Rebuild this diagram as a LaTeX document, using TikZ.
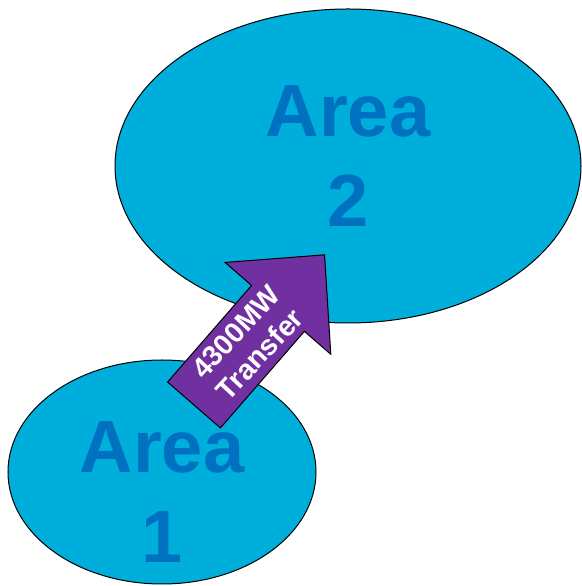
\documentclass[tikz,border=0pt]{standalone}
\usepackage{fontspec}
\setmainfont{Liberation Sans}
\usetikzlibrary{shapes.geometric}

\definecolor{zonefill}{RGB}{0,174,219}
\definecolor{zonetext}{RGB}{0,112,192}
\definecolor{flowfill}{RGB}{112,48,160}

\begin{document}
\begin{tikzpicture}[x=1pt, y=1pt,
    zone/.style={ellipse, draw=black, line width=1pt, fill=zonefill, inner sep=0pt},
    areatext/.style={align=center, text=zonetext, font=\fontsize{74}{90}\selectfont\bfseries},
    flow/.style={draw=black, line width=1pt, fill=flowfill},
    flowtext/.style={align=center, text=white, rotate=47, font=\fontsize{28.5}{33}\selectfont\bfseries}]
  \useasboundingbox (0,0) rectangle (581,586);
  % the two areas
  \node[zone, minimum width=466pt, minimum height=314pt] (area2) at (348,420) {};
  \node[zone, minimum width=308pt, minimum height=224pt] (area1) at (162,114) {};
  \node[areatext] (area2label) at ([yshift=10pt]area2.center) {Area\\2};
  \node[areatext] (area1label) at ([yshift=-20pt]area1.center) {Area\\1};
  % transfer arrow
  \begin{scope}[shift={(194,181)}, rotate=49]
    \draw[flow] (0,-35) -- (128,-35) -- (128,-70) -- (199,0) -- (128,70) -- (128,35) -- (0,35) -- cycle;
    \node[flowtext] (transfer) at (82,0) {4300MW\\Transfer};
  \end{scope}
\end{tikzpicture}
\end{document}
